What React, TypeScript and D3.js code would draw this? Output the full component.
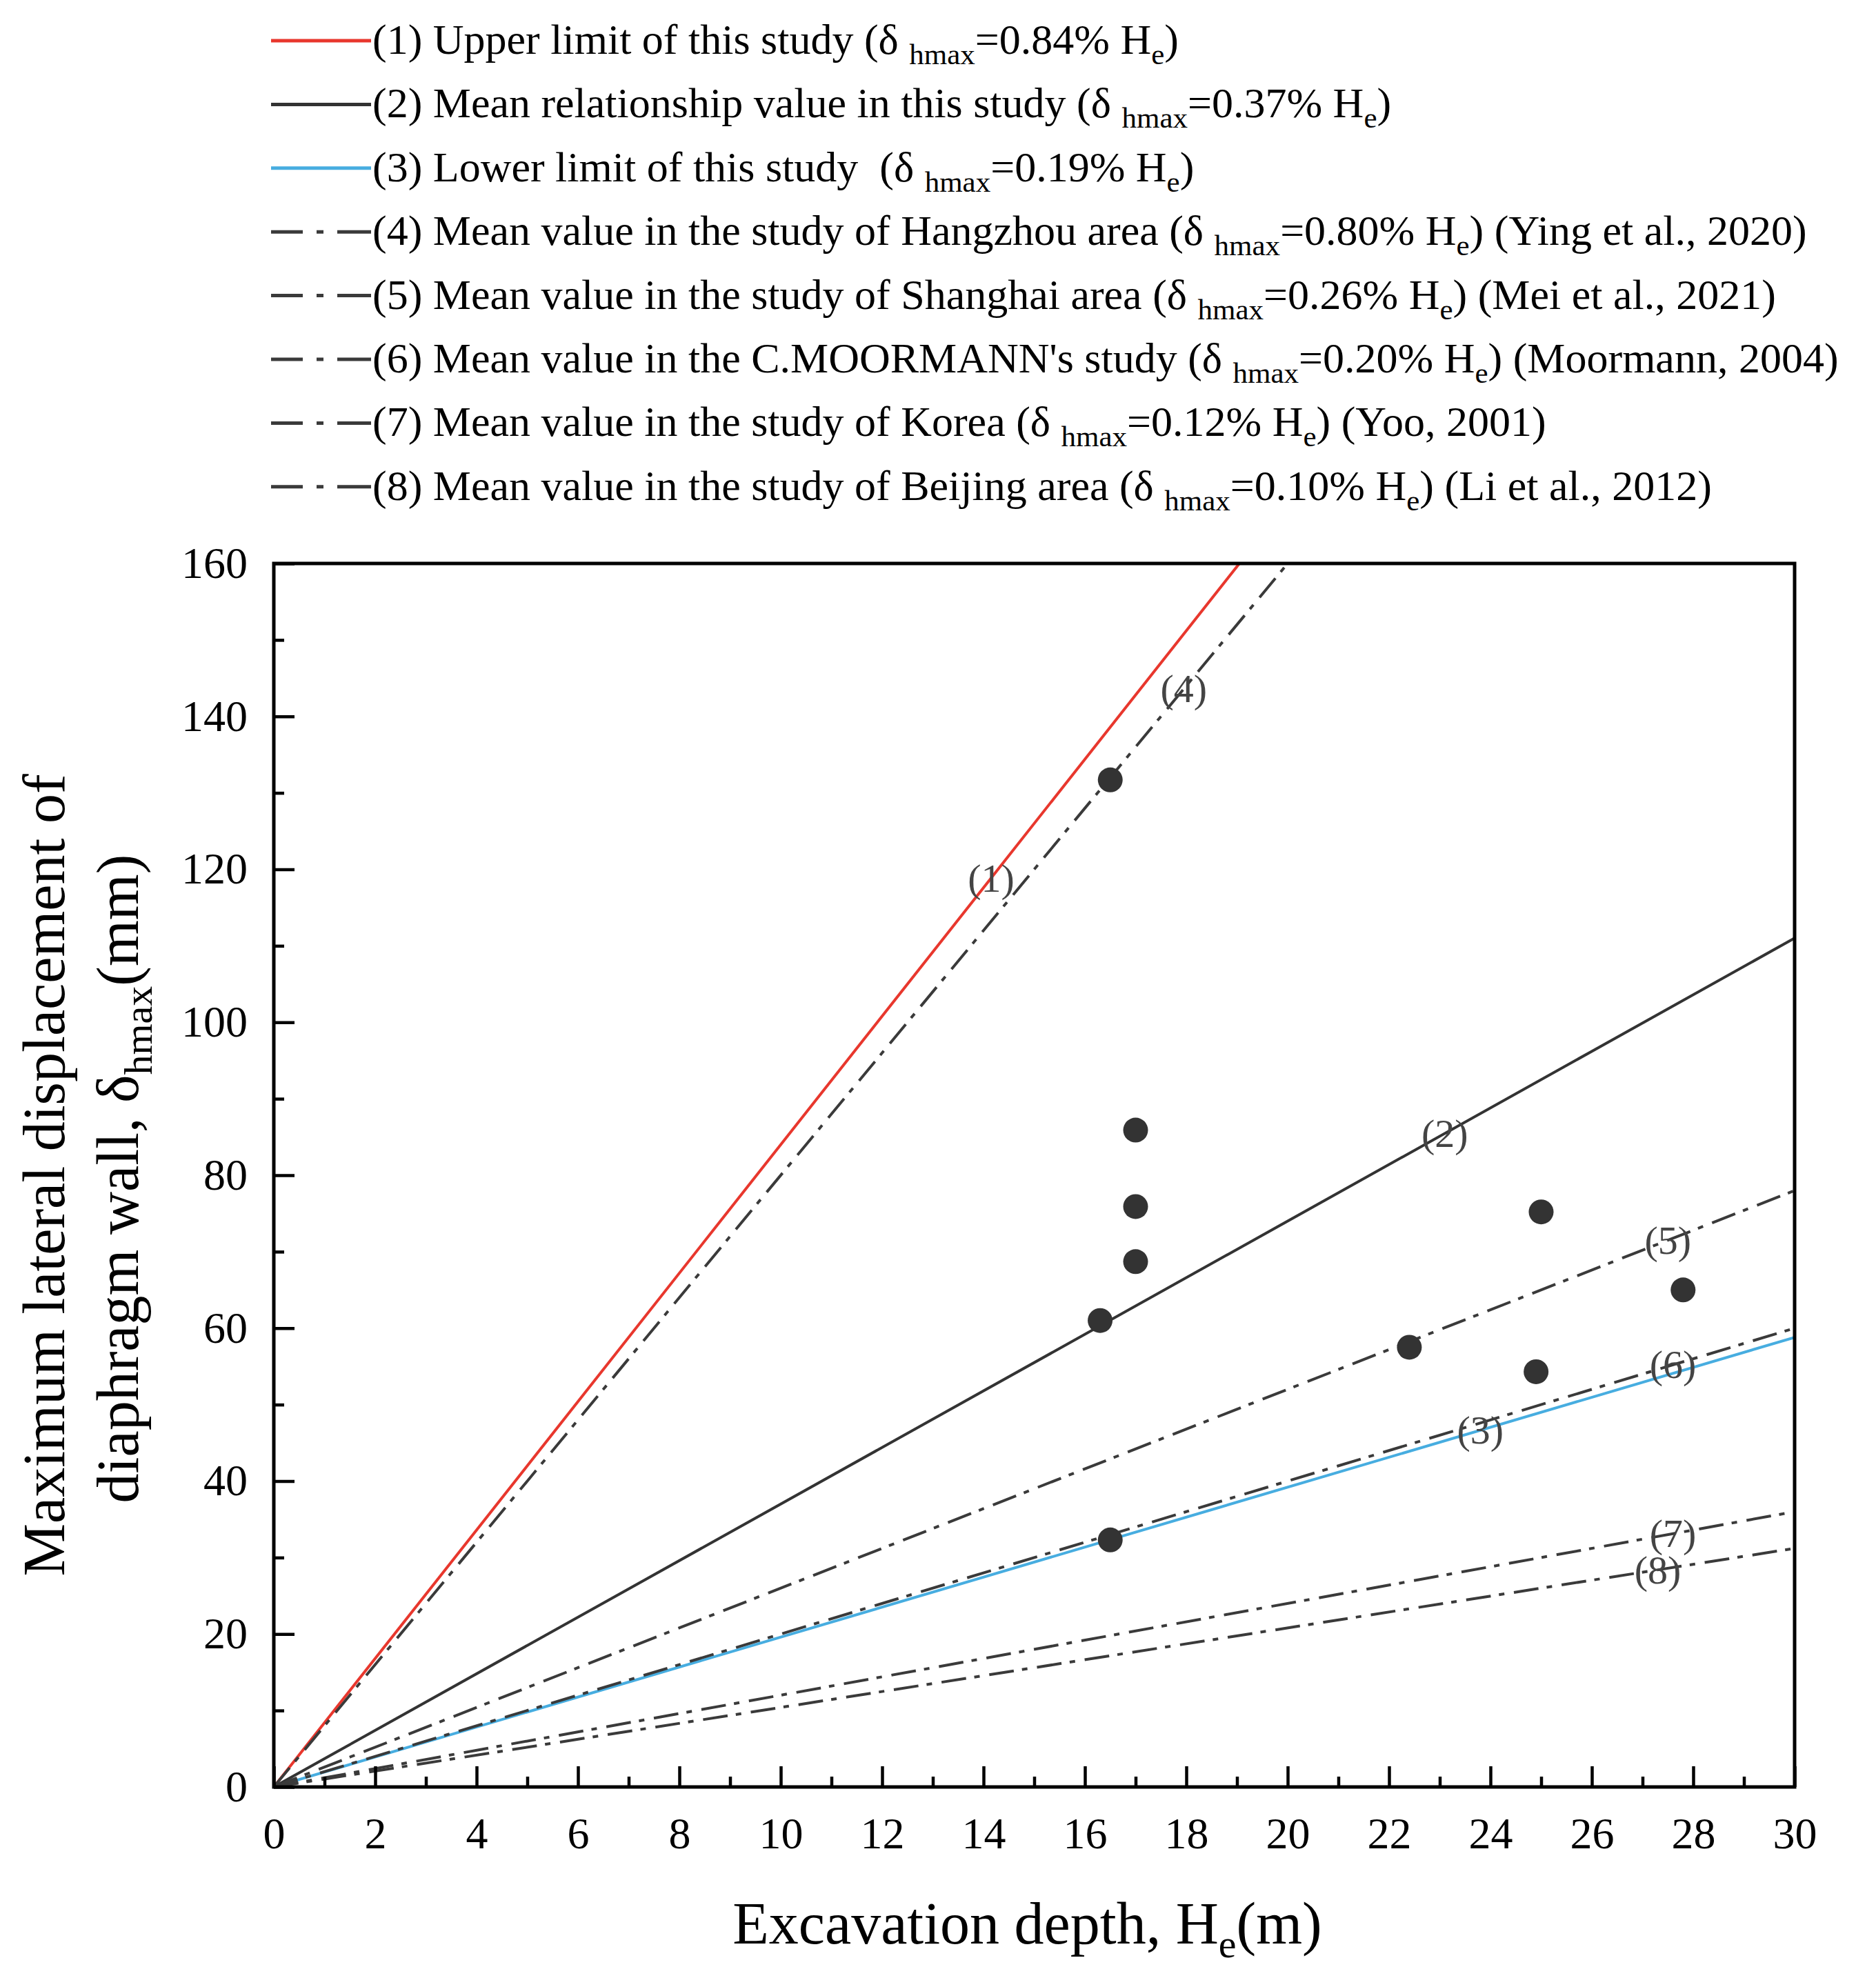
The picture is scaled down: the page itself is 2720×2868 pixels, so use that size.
import * as d3 from "d3";

// measured points: excavation depth (m) vs max lateral wall displacement (mm)
const depth = [16.5, 17.0, 17.0, 17.0, 16.3, 22.4, 25.0, 24.9, 27.8, 16.5];
const displacement = [131.7, 85.9, 75.9, 68.7, 61.0, 57.5, 75.2, 54.3, 65.0, 32.3];

// reference lines δhmax = k% · He
const lineIds = ["(1)", "(2)", "(3)", "(4)", "(5)", "(6)", "(7)", "(8)"];
const lineRatio = [0.84, 0.37, 0.196, 0.8, 0.26, 0.2, 0.12, 0.104];
const lineColors = ["#e8372d", "#333333", "#47ade0", "#3a3a3a", "#3a3a3a", "#3a3a3a", "#3a3a3a", "#3a3a3a"];
const lineDashed = [false, false, false, true, true, true, true, true];
const labelDepth = [14.15, 23.1, 23.8, 17.95, 27.5, 27.6, 27.6, 27.3];

// legend texts: [before subscript, between, after]
const legendText = [
  ["(1) Upper limit of this study (δ ", "=0.84% H", ")"],
  ["(2) Mean relationship value in this study (δ ", "=0.37% H", ")"],
  ["(3) Lower limit of this study  (δ ", "=0.19% H", ")"],
  ["(4) Mean value in the study of Hangzhou area (δ ", "=0.80% H", ") (Ying et al., 2020)"],
  ["(5) Mean value in the study of Shanghai area (δ ", "=0.26% H", ") (Mei et al., 2021)"],
  ["(6) Mean value in the C.MOORMANN's study (δ ", "=0.20% H", ") (Moormann, 2004)"],
  ["(7) Mean value in the study of Korea (δ ", "=0.12% H", ") (Yoo, 2001)"],
  ["(8) Mean value in the study of Beijing area (δ ", "=0.10% H", ") (Li et al., 2012)"],
];

const xTicks = d3.range(0, 31, 2);
const xMinor = d3.range(1, 30, 2);
const yTicks = d3.range(0, 161, 20);
const yMinor = d3.range(10, 160, 20);

/** svg dimensions */
const width = 2720;
const height = 2868;
const left = 397;
const right = 2602;
const top = 817;
const bottom = 2591;

const font = "'Liberation Serif', 'Times New Roman', serif";
const dashDot = "36 12 8 14";

const x = d3.scaleLinear().domain([0, 30]).range([left, right]);
const y = d3.scaleLinear().domain([0, 160]).range([bottom, top]);

const styleAxis = (g: d3.Selection<SVGGElement, unknown, null, undefined>) => {
  g.select(".domain").remove();
  g.selectAll(".tick line").attr("stroke", "#000").attr("stroke-width", 4.5);
  g.selectAll(".tick text")
    .attr("fill", "#000")
    .style("font-family", font)
    .style("font-size", "64px");
};

const App = () => {
  const line = d3
    .line<number>()
    .x((d) => x(d))
    .y((d) => y(d));

  const legendY = (i: number) => 59 + i * 92.4;

  return (
    <svg
      width={width}
      height={height}
      viewBox={[0, 0, width, height].join(" ")}
      style={{ position: "absolute", left: 0, top: 0, background: "#fff" }}
      fontFamily={font}
    >
      <rect width={width} height={height} fill="#fff" />
      <defs>
        <clipPath id="plot">
          <rect x={left} y={top} width={right - left} height={bottom - top} />
        </clipPath>
      </defs>

      {/* legend */}
      {legendText.map((t, i) => (
        <g key={i}>
          <line
            x1={393}
            x2={538}
            y1={legendY(i)}
            y2={legendY(i)}
            stroke={lineColors[i]}
            strokeWidth={5}
            strokeDasharray={lineDashed[i] ? "46 20 10 20 49" : undefined}
          />
          <text x={540} y={legendY(i) + 19} fontSize={62} fill="#000" style={{ whiteSpace: "pre" }}>
            {t[0]}
            <tspan fontSize={43} dy={15}>hmax</tspan>
            <tspan dy={-15}>{t[1]}</tspan>
            <tspan fontSize={43} dy={15}>e</tspan>
            <tspan dy={-15}>{t[2]}</tspan>
          </text>
        </g>
      ))}

      {/* reference lines */}
      <g clipPath="url(#plot)">
        {lineRatio.map((k, i) => (
          <path
            key={i}
            d={
              d3
                .line<number>()
                .x((d) => x(d))
                .y((d) => y(d * k * 10))([0, 30]) ?? ""
            }
            fill="none"
            stroke={lineColors[i]}
            strokeWidth={4}
            strokeDasharray={lineDashed[i] ? dashDot : undefined}
          />
        ))}
      </g>
      {line ? null : null}

      {/* line labels */}
      {lineIds.map((id, i) => (
        <text
          key={id}
          x={x(labelDepth[i])}
          y={y(labelDepth[i] * lineRatio[i] * 10)}
          fontSize={58}
          fill="#444"
          textAnchor="middle"
          dominantBaseline="central"
        >
          {id}
        </text>
      ))}

      {/* measured points */}
      {depth.map((d, i) => (
        <circle key={i} cx={x(d)} cy={y(displacement[i])} r={18} fill="#333" />
      ))}

      {/* x-axis ticks and labels */}
      <g
        transform={`translate(0, ${bottom})`}
        ref={(el) => {
          if (!el) return;
          const g = d3.select(el);
          g.call(d3.axisBottom(x).tickValues(xTicks).tickSize(-30).tickPadding(44).tickFormat(d3.format("d")));
          styleAxis(g);
        }}
      />
      <g
        transform={`translate(0, ${bottom})`}
        ref={(el) => {
          if (!el) return;
          const g = d3.select(el);
          g.call(d3.axisBottom(x).tickValues(xMinor).tickSize(-15).tickFormat(() => ""));
          styleAxis(g);
        }}
      />
      {/* y-axis ticks and labels */}
      <g
        transform={`translate(${left}, 0)`}
        ref={(el) => {
          if (!el) return;
          const g = d3.select(el);
          g.call(d3.axisLeft(y).tickValues(yTicks).tickSize(-30).tickPadding(38).tickFormat(d3.format("d")));
          styleAxis(g);
        }}
      />
      <g
        transform={`translate(${left}, 0)`}
        ref={(el) => {
          if (!el) return;
          const g = d3.select(el);
          g.call(d3.axisLeft(y).tickValues(yMinor).tickSize(-15).tickFormat(() => ""));
          styleAxis(g);
        }}
      />

      {/* frame */}
      <rect
        x={left}
        y={top}
        width={right - left}
        height={bottom - top}
        fill="none"
        stroke="#000"
        strokeWidth={5}
      />

      {/* x-axis title */}
      <text x={(left + right) / 2 - 10} y={2818} fontSize={86} textAnchor="middle" fill="#000">
        Excavation depth, H
        <tspan fontSize={58} dy={20}>e</tspan>
        <tspan dy={-20}>(m)</tspan>
      </text>

      {/* y-axis title */}
      <g transform={`translate(93, ${(top + bottom) / 2}) rotate(-90)`}>
        <text x={0} y={0} fontSize={86} textAnchor="middle" fill="#000">
          Maximum lateral displacement of
        </text>
      </g>
      <g transform={`translate(200, ${(top + bottom) / 2 + 5}) rotate(-90)`}>
        <text x={0} y={0} fontSize={86} textAnchor="middle" fill="#000">
          diaphragm wall, δ
          <tspan fontSize={58} dy={20}>hmax</tspan>
          <tspan dy={-20}>(mm)</tspan>
        </text>
      </g>
    </svg>
  );
};

export default App;
